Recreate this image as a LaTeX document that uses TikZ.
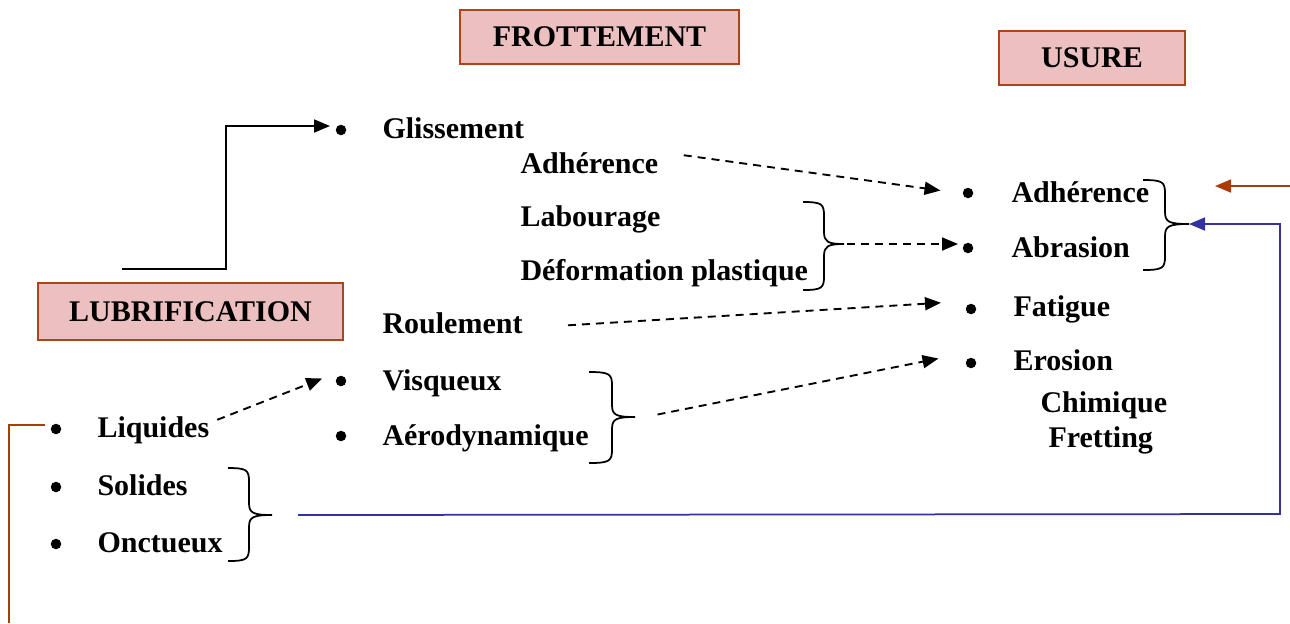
\documentclass[tikz,border=0pt]{standalone}
\usepackage{fontspec}
\setmainfont{Liberation Serif}
\usetikzlibrary{arrows.meta}
\definecolor{boxpink}{RGB}{236,192,192}
\definecolor{boxbrown}{RGB}{170,70,25}
\definecolor{linkblue}{RGB}{50,50,160}
\definecolor{linkbrown}{RGB}{170,60,10}
\newcommand{\mybrace}[7]{% name, xl, xm, xt, yt, ym, yb
  \draw[bracestyle] (#2,#5) .. controls ({#3-2},#5) and (#3,{#5+2}) .. (#3,{#5+14})
    -- (#3,{#6-12}) .. controls (#3,{#6-2}) and ({#3+4},#6) .. (#4,#6)
    .. controls ({#3+4},#6) and (#3,{#6+2}) .. (#3,{#6+12})
    -- (#3,{#7-14}) .. controls (#3,{#7-2}) and ({#3-2},#7) .. (#2,#7);
  \coordinate (#1) at (#4,#6);}
\begin{document}
\begin{tikzpicture}[x=0.4pt,y=-0.4pt,
  lbl/.style={font=\bfseries\fontsize{12}{14}\selectfont, inner sep=0pt, anchor=base west},
  titlebox/.style={draw=boxbrown, line width=0.8pt, fill=boxpink, inner sep=0pt,
    font=\bfseries\fontsize{12}{14}\selectfont, minimum height=21.6pt},
  dot/.style={circle, fill=black, inner sep=0pt, minimum size=4.2pt},
  bracestyle/.style={line width=0.7pt, black},
  dasharrow/.style={dash pattern=on 3.2pt off 2.4pt, line width=0.75pt, -{Triangle[length=6.4pt,width=5.2pt]}},
  solidarrow/.style={line width=0.75pt, -{Triangle[length=6.4pt,width=5.2pt]}}]
\useasboundingbox (0,0) rectangle (1290,623);

% title boxes
\node[titlebox, minimum width=111.6pt] (frott) at (599.5,37) {FROTTEMENT};
\node[titlebox, minimum width=74.4pt] (usure) at (1092,58) {USURE};
\node[titlebox, minimum width=122pt, minimum height=22.8pt] (lubr) at (190.5,311.5) {LUBRIFICATION};

% frottement column
\node[dot] (bGl) at (341,130) {};
\node[lbl] (gliss) at (382,138) {Glissement};
\node[lbl] (adhF) at (520,173) {Adhérence};
\node[lbl] (labour) at (520,226) {Labourage};
\node[lbl] (deform) at (520,280) {Déformation plastique};
\node[lbl] (roul) at (382,333) {Roulement};
\node[dot] (bVi) at (341,381) {};
\node[lbl] (visq) at (382,390) {Visqueux};
\node[dot] (bAe) at (341,436) {};
\node[lbl] (aero) at (382,445) {Aérodynamique};

% usure column
\node[dot] (bAd) at (968,193) {};
\node[lbl] (adhU) at (1011,202) {Adhérence};
\node[dot] (bAb) at (968,248) {};
\node[lbl] (abras) at (1011,257) {Abrasion};
\node[dot] (bFa) at (971,309) {};
\node[lbl] (fatig) at (1013,316) {Fatigue};
\node[dot] (bEr) at (971,363) {};
\node[lbl] (eros) at (1013,370) {Erosion};
\node[lbl] (chim) at (1040,412) {Chimique};
\node[lbl] (frett) at (1048,447) {Fretting};

% lubrification column
\node[dot] (bLi) at (56,429) {};
\node[lbl] (liq) at (97,437) {Liquides};
\node[dot] (bSo) at (56,487) {};
\node[lbl] (sol) at (97,495) {Solides};
\node[dot] (bOn) at (56,544) {};
\node[lbl] (onct) at (97,552) {Onctueux};

% braces
\mybrace{brA}{803}{824}{844}{202}{244}{290}
\mybrace{brU}{1143}{1165}{1189}{180}{224}{270}
\mybrace{brV}{589}{612}{635}{372}{417}{463}
\mybrace{brL}{228}{249}{272}{468}{515}{561}

% helper coordinates
\coordinate (lStart) at (122,269);
\coordinate (lCorner1) at (226,269);
\coordinate (lCorner2) at (226,126);
\coordinate (blueStart) at (298,515);
\coordinate (blueC1) at (1280,514);
\coordinate (blueC2) at (1280,224);
\coordinate (brownIn) at (1290,186);
\coordinate (brownTip) at (1215,186);
\coordinate (brLStart) at (45,425);
\coordinate (brLC) at (9,425);
\coordinate (brLEnd) at (9,623);

% connectors
\draw[solidarrow] (lStart) -- (lCorner1) -- (lCorner2) -- ([xshift=-4.4pt]bGl.center |- lCorner2);
\draw[dasharrow] ([xshift=10pt,yshift=3pt]adhF.east) -- ([xshift=-11pt,yshift=1pt]bAd.center);
\draw[dasharrow] ([xshift=1pt]brA) -- ([xshift=-4pt]bAb.center |- brA);
\draw[dasharrow] ([xshift=18pt,yshift=-1pt]roul.east) -- ([xshift=-12pt,yshift=2.5pt]bFa.center);
\draw[dasharrow] ([xshift=9pt,yshift=1pt]brV) -- ([xshift=-13pt,yshift=1.8pt]bEr.center);
\draw[dasharrow] ([xshift=3pt,yshift=4pt]liq.east) -- ([xshift=-7.5pt,yshift=1pt]bVi.center);
\draw[linkblue, line width=0.7pt, -{Triangle[length=6.4pt,width=5.2pt]}] (blueStart) -- (blueC1) -- (blueC2) -- (brU);
\draw[linkbrown, line width=0.7pt, -{Triangle[length=6.4pt,width=5.2pt]}] (brownIn) -- (brownTip);
\draw[linkbrown, line width=0.7pt] (brLStart) -- (brLC) -- (brLEnd);
\end{tikzpicture}
\end{document}
